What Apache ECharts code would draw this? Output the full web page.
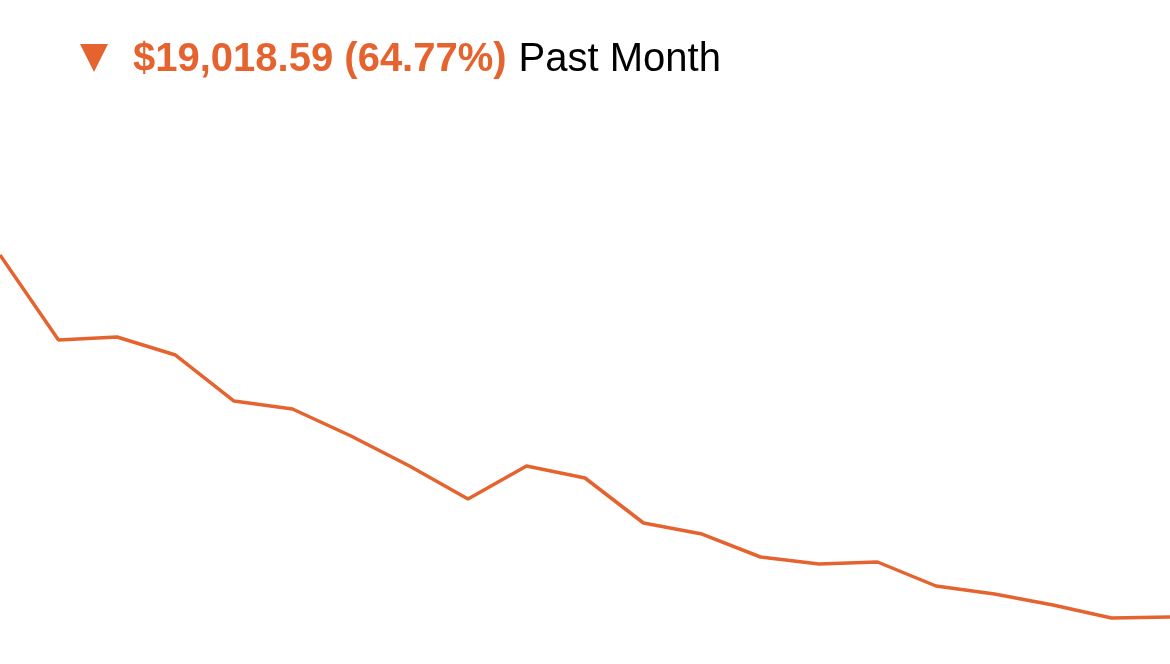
<!DOCTYPE html>
<html>
<head>
<meta charset="utf-8">
<script src="https://cdn.jsdelivr.net/npm/echarts@6/dist/echarts.min.js"></script>
<style>
html,body{margin:0;padding:0;background:#fff;}
#chart{width:1170px;height:664px;}
</style>
</head>
<body>
<div id="chart"></div>
<script>
const days = ['D1','D2','D3','D4','D5','D6','D7','D8','D9','D10','D11','D12','D13','D14','D15','D16','D17','D18','D19','D20','D21'];
const values = [29363, 24897, 25055, 24109, 21692, 21272, 19853, 18277, 16543, 18277, 17647, 15282, 14704, 13496, 13128, 13233, 11972, 11552, 10974, 10291, 10344];
const changeText = '$19,018.59 (64.77%)';
const periodText = 'Past Month';

const orange = '#E5632E';
const chart = echarts.init(document.getElementById('chart'));
chart.setOption({
  animation: false,
  backgroundColor: '#ffffff',
  title: {
    left: 128, top: 35,
    text: '{a|' + changeText + '}{b|' + periodText + '}',
    textStyle: {
      rich: {
        a: {fontFamily: 'Liberation Sans', fontSize: 40, fontWeight: 'bold', color: orange},
        b: {fontFamily: 'Liberation Sans', fontSize: 40, fontWeight: 'normal', color: '#000000', padding: [0, 0, 0, 12]}
      }
    }
  },
  graphic: [{
    type: 'polygon',
    shape: {points: [[80, 44], [108, 44], [94, 72]]},
    style: {fill: orange}
  }],
  grid: {left: 0, right: 0, top: 14.5, bottom: 2.4},
  xAxis: {
    type: 'category', data: days, boundaryGap: false, show: false
  },
  yAxis: {
    type: 'value', min: 8000, max: 42000, show: false, splitLine: {show: false}
  },
  series: [{
    type: 'line', data: values, symbol: 'none',
    lineStyle: {color: orange, width: 3.5},
    itemStyle: {color: orange}
  }]
});
</script>
</body>
</html>
